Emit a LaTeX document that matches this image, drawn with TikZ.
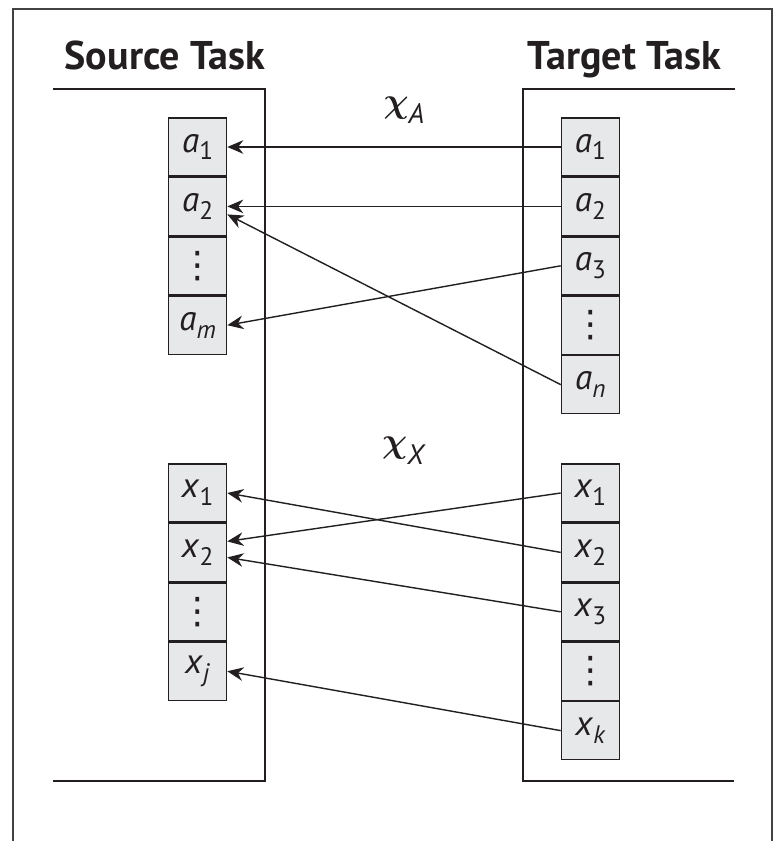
\documentclass[tikz,border=0pt]{standalone}
\usepackage{fontspec}
\setmainfont{PT Sans}
\newfontfamily\dotsfont{DejaVu Sans}
\usetikzlibrary{arrows.meta, positioning}
\definecolor{ink}{RGB}{35,31,32}
\definecolor{cellgray}{RGB}{231,232,234}
\newcommand{\sym}[2]{\textit{#1}\raisebox{-0.45ex}{\fontsize{18}{18}\selectfont#2}}
\newcommand{\vdts}{{\dotsfont\fontsize{26}{26}\selectfont ⋮}}
\newcommand{\mapchi}[1]{{\fontsize{42}{42}\selectfont\boldmath$\chi$}\raisebox{-8pt}{\fontsize{20}{20}\selectfont\textit{#1}}}

\begin{document}
\begin{tikzpicture}[
        cell/.style={rectangle, draw=ink, fill=cellgray, line width=1pt, minimum width=1.45cm, minimum height=1.45cm, inner sep=0pt, text=ink, font=\fontsize{25}{25}\selectfont},
        tasklabel/.style={anchor=base, text=ink, font=\bfseries\fontsize{28.5}{30}\selectfont},
        chilabel/.style={text=ink},
        bracket/.style={draw=ink, line width=1pt},
        map/.style={-{Stealth[length=0.4cm, width=0.34cm]}, draw=ink, line width=1pt}
    ]
        \useasboundingbox (0,0) rectangle (19.35,-21.025);

        % Frame
        \draw[ink!85, line width=0.9pt] (0.325,-21.2) |- (19.3,-0.225) -- (19.3,-21.2);

        % Source task
        \node[tasklabel] (src) at (4.125,-1.75) {Source Task};
        \draw[bracket] (1.325,-2.225) -- (6.625,-2.225) -- (6.625,-19.525) -- (1.325,-19.525);

        % Target task
        \node[tasklabel] (tgt) at (15.61,-1.75) {Target Task};
        \draw[bracket] (18.375,-2.225) -- (13.075,-2.225) -- (13.075,-19.525) -- (18.35,-19.525);

        % Mappings
        \node[chilabel] (chiA) at (10.1,-2.75) {\mapchi{A}};
        \node[chilabel] (chiX) at (10.1,-11.27) {\mapchi{X}};

        % Source actions
        \node[cell] (sa1) at (4.94,-3.675) {\sym{a}{1}};
        \node[cell, below=0pt of sa1] (sa2) {\sym{a}{2}};
        \node[cell, below=0pt of sa2] (sad) {\vdts};
        \node[cell, below=0pt of sad] (sam) {\sym{a}{\textit{m}}};

        % Target actions
        \node[cell] (ta1) at (14.76,-3.675) {\sym{a}{1}};
        \node[cell, below=0pt of ta1] (ta2) {\sym{a}{2}};
        \node[cell, below=0pt of ta2] (ta3) {\sym{a}{3}};
        \node[cell, below=0pt of ta3] (tad) {\vdts};
        \node[cell, below=0pt of tad] (tan) {\sym{a}{\textit{n}}};

        % Source state variables
        \node[cell] (sx1) at (4.94,-12.325) {\sym{x}{1}};
        \node[cell, below=0pt of sx1] (sx2) {\sym{x}{2}};
        \node[cell, below=0pt of sx2] (sxd) {\vdts};
        \node[cell, below=0pt of sxd] (sxj) {\sym{x}{\textit{j}}};

        % Target state variables
        \node[cell] (tx1) at (14.76,-12.325) {\sym{x}{1}};
        \node[cell, below=0pt of tx1] (tx2) {\sym{x}{2}};
        \node[cell, below=0pt of tx2] (tx3) {\sym{x}{3}};
        \node[cell, below=0pt of tx3] (txd) {\vdts};
        \node[cell, below=0pt of txd] (txk) {\sym{x}{\textit{k}}};

        % Arrows
        \draw[map] (ta1.west) -- (sa1.east);
        \draw[map] (ta2.west) -- (sa2.east);
        \draw[map] (ta3.west) -- (sam.east);
        \draw[map] (tan.west) -- ([yshift=-0.2cm]sa2.east);
        \draw[map] (tx1.west) -- ([yshift=0.275cm]sx2.east);
        \draw[map] (tx2.west) -- (sx1.east);
        \draw[map] (tx3.west) -- ([yshift=-0.125cm]sx2.east);
        \draw[map] (txk.west) -- (sxj.east);
    \end{tikzpicture}
\end{document}
